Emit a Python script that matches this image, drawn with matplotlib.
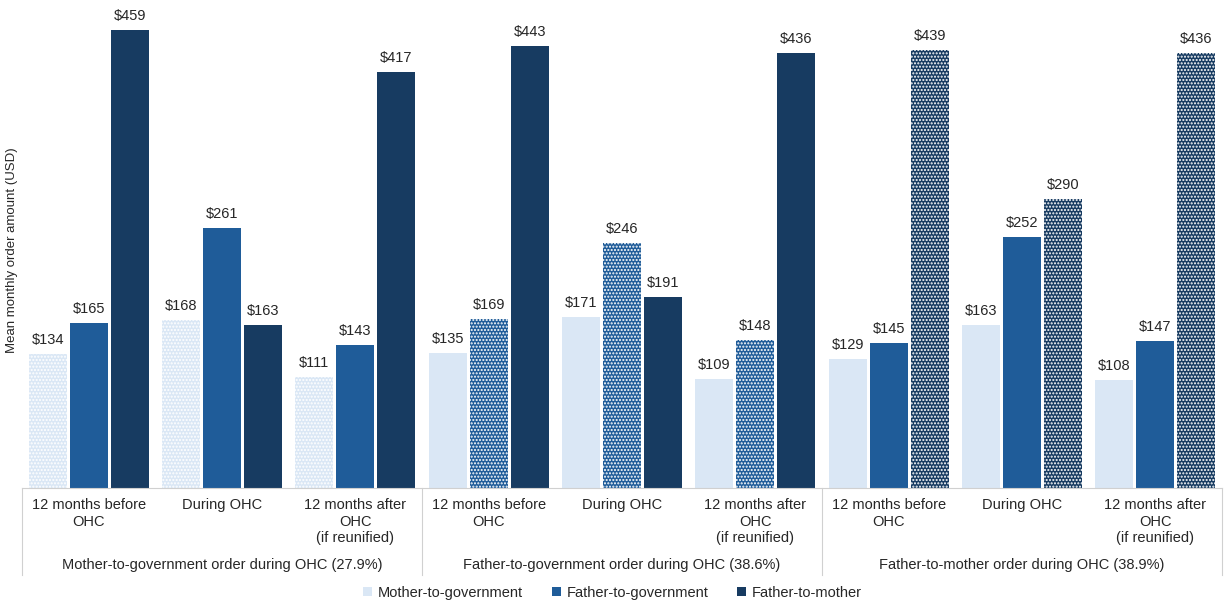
import matplotlib.pyplot as plt
from matplotlib.patches import Patch

plt.rcParams['font.family'] = ['Liberation Sans', 'DejaVu Sans']

periods = ['12 months before\nOHC', 'During OHC', '12 months after\nOHC\n(if reunified)']
groups = ['Mother-to-government order during OHC (27.9%)',
          'Father-to-government order during OHC (38.6%)',
          'Father-to-mother order during OHC (38.9%)']
series = ['Mother-to-government', 'Father-to-government', 'Father-to-mother']

mother_gov = [134, 168, 111, 135, 171, 109, 129, 163, 108]
father_gov = [165, 261, 143, 169, 246, 148, 145, 252, 147]
father_mother = [459, 163, 417, 443, 191, 436, 439, 290, 436]
values = [mother_gov, father_gov, father_mother]

colors = ['#DAE7F5', '#1F5C99', '#173B61']
# series that matches the group's order type gets a dotted fill
dotted = [0, 1, 2]

fig = plt.figure(figsize=(12.25, 6.03), dpi=100)
ax = fig.add_axes([22 / 1225, 115 / 603, 1200 / 1225, 473 / 603])

width = 0.285
step = 0.3075
x = list(range(9))
for s, vals in enumerate(values):
    for i, v in enumerate(vals):
        g = i // 3
        hatch = '.....' if dotted[g] == s else None
        ax.bar(x[i] + (s - 1) * step, v, width, color=colors[s],
               hatch=hatch, edgecolor='white', linewidth=0)
        ax.text(x[i] + (s - 1) * step, v + 7, f'${v}', ha='center', va='bottom',
                fontsize=10.5, color='#262626')

ax.set_xlim(-0.5, 8.5)
ax.set_ylim(0, 474)
ax.set_xticks([])
ax.set_yticks([])
for sp in ['top', 'right', 'left']:
    ax.spines[sp].set_visible(False)
ax.spines['bottom'].set_color('#D0D0D0')

trans = ax.get_xaxis_transform()
for i in range(9):
    ax.text(x[i], -0.022, periods[i % 3], transform=trans, ha='center', va='top',
            fontsize=10.5, color='#262626', linespacing=1.2)
for g in range(3):
    ax.text(g * 3 + 1, -0.163, groups[g], transform=trans, ha='center', va='center',
            fontsize=10.5, color='#262626')
for b in [-0.5, 2.5, 5.5, 8.5]:
    ax.plot([b, b], [0, -0.184], transform=trans, color='#D0D0D0', lw=0.8, clip_on=False)

fig.text(12 / 1225, 1 - 250 / 603, 'Mean monthly order amount (USD)', rotation=90,
         ha='center', va='center', fontsize=9.5, color='#262626')

handles = [Patch(facecolor=c, edgecolor='none') for c in colors]
fig.legend(handles, series, loc='center', bbox_to_anchor=(0.5, 1 - 593 / 603), ncol=3,
           frameon=False, fontsize=10.5, handlelength=0.6, handleheight=0.6,
           handletextpad=0.4, columnspacing=2.0, labelcolor='#262626')

fig.savefig('out.png', dpi=100)
